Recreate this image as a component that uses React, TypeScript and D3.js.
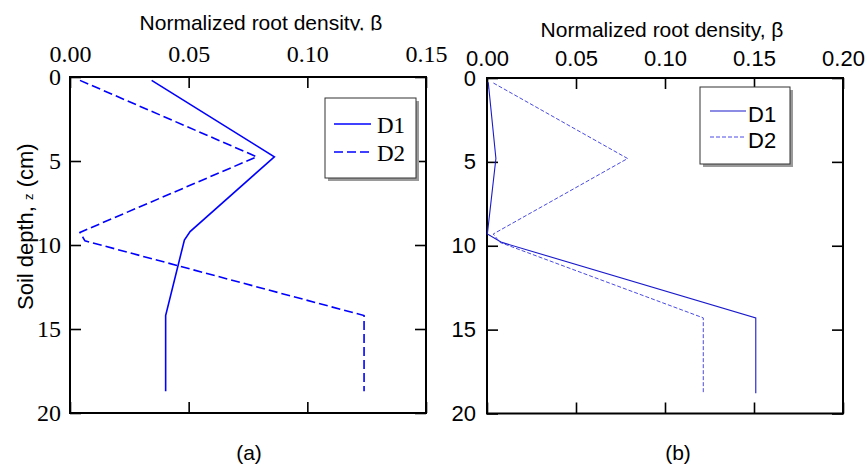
import React, { useRef, useEffect } from "react";
import * as d3 from "d3";

const depthTicks = [0, 5, 10, 15, 20];
const betaTicksA = [0, 0.05, 0.1, 0.15];
const betaTicksB = [0, 0.05, 0.1, 0.15, 0.2];
const seriesNames = ["D1", "D2"];

// panel (a)
const depthA_D1 = [0.2, 4.75, 9.2, 9.7, 14.2, 18.7];
const betaA_D1 = [0.0344, 0.0861, 0.0506, 0.0482, 0.0403, 0.0403];
const depthA_D2 = [0.2, 4.75, 9.25, 9.75, 14.2, 18.7];
const betaA_D2 = [0.0042, 0.0787, 0.0042, 0.0063, 0.1239, 0.1239];

// panel (b)
const depthB_D1 = [0.25, 4.8, 9.3, 9.8, 14.3, 18.8];
const betaB_D1 = [0.0007, 0.005, 0.0002, 0.0083, 0.151, 0.151];
const depthB_D2 = [0.3, 4.8, 9.3, 9.8, 14.3, 18.8];
const betaB_D2 = [0.0036, 0.079, 0.0035, 0.0073, 0.1215, 0.1215];

const W = 867;
const H = 466;
const SANS = "Liberation Sans, Arial, sans-serif";
const SERIF = "Liberation Serif, DejaVu Serif, Times New Roman, serif";

const zip = (depth: number[], beta: number[]) =>
  depth.map((d, i) => ({ depth: d, beta: beta[i] }));

const panels = [
  {
    id: "a",
    left: 70,
    right: 426,
    top: 77,
    bottom: 413,
    xMax: 0.15,
    xTicks: betaTicksA,
    tickFont: SERIF,
    tickSize: 24,
    topPad: 15,
    leftPad: 9,
    titleY: 29.5,
    titleX: 261,
    clipTitle: true,
    series: [zip(depthA_D1, betaA_D1), zip(depthA_D2, betaA_D2)],
    lineWidth: [1.6, 1.6],
    colors: ["#0000ff", "#0000ff"],
    dash: [null, "9,4"],
    legend: { x: 325, y: 98, w: 91, h: 80, font: SERIF, size: 23, rows: [124, 152], base: [133, 161], lx: [334, 371], tx: 377 },
    label: "(a)",
    labelX: 249,
  },
  {
    id: "b",
    left: 487,
    right: 843,
    top: 78,
    bottom: 413.5,
    xMax: 0.2,
    xTicks: betaTicksB,
    tickFont: SANS,
    tickSize: 22,
    topPad: 12,
    leftPad: 11,
    titleY: 37,
    titleX: 662,
    clipTitle: false,
    series: [zip(depthB_D1, betaB_D1), zip(depthB_D2, betaB_D2)],
    lineWidth: [1.1, 1],
    colors: ["#1a1acc", "#4a4ae6"],
    dash: [null, "4,2"],
    legend: { x: 700, y: 87, w: 90, h: 77, font: SANS, size: 22, rows: [111, 137], base: [122, 148], lx: [710, 746], tx: 748 },
    label: "(b)",
    labelX: 678,
  },
];

const App = () => {
  const svgRef = useRef<SVGSVGElement>(null);

  useEffect(() => {
    const svg = d3.select(svgRef.current);
    svg.selectAll("*").remove();

    svg
      .append("defs")
      .append("clipPath")
      .attr("id", "titleClip")
      .append("rect")
      .attr("x", 0)
      .attr("y", 0)
      .attr("width", 450)
      .attr("height", 30.5);

    panels.forEach((p) => {
      const x = d3.scaleLinear().domain([0, p.xMax]).range([p.left, p.right]);
      const y = d3.scaleLinear().domain([0, 20]).range([p.top, p.bottom]);
      const g = svg.append("g");

      // title
      g.append("text")
        .attr("x", p.titleX)
        .attr("y", p.titleY)
        .attr("text-anchor", "middle")
        .style("font-family", SANS)
        .style("font-size", "21px")
        .attr("clip-path", p.clipTitle ? "url(#titleClip)" : null)
        .text("Normalized root density,  β");

      // axes
      const top = g
        .append("g")
        .attr("transform", `translate(0,${p.top})`)
        .call(
          d3
            .axisTop(x)
            .tickValues(p.xTicks)
            .tickFormat(d3.format(".2f"))
            .tickSizeInner(-11)
            .tickSizeOuter(0)
            .tickPadding(p.topPad)
        );
      const bottom = g
        .append("g")
        .attr("transform", `translate(0,${p.bottom})`)
        .call(d3.axisBottom(x).tickValues(p.xTicks).tickFormat(() => "").tickSizeInner(-11).tickSizeOuter(0));
      const leftAx = g
        .append("g")
        .attr("transform", `translate(${p.left},0)`)
        .call(
          d3.axisLeft(y).tickValues(depthTicks).tickFormat(d3.format("d")).tickSizeInner(-11).tickSizeOuter(0).tickPadding(p.leftPad)
        );
      const rightAx = g
        .append("g")
        .attr("transform", `translate(${p.right},0)`)
        .call(d3.axisRight(y).tickValues(depthTicks).tickFormat(() => "").tickSizeInner(-11).tickSizeOuter(0));

      [top, bottom, leftAx, rightAx].forEach((a) => {
        a.select(".domain").remove();
        a.selectAll("line").attr("stroke", "#000").attr("stroke-width", 1.6);
        a.selectAll("text")
          .attr("fill", "#000")
          .style("font-family", p.tickFont)
          .style("font-size", `${p.tickSize}px`);
      });
      top.selectAll("text").attr("dy", "0em");

      // frame
      g.append("rect")
        .attr("x", p.left)
        .attr("y", p.top)
        .attr("width", p.right - p.left)
        .attr("height", p.bottom - p.top)
        .attr("fill", "none")
        .attr("stroke", "#000")
        .attr("stroke-width", 2);

      // lines
      const line = d3
        .line<{ depth: number; beta: number }>()
        .x((d) => x(d.beta))
        .y((d) => y(d.depth));

      p.series.forEach((s, i) => {
        g.append("path")
          .datum(s)
          .attr("fill", "none")
          .attr("stroke", p.colors[i])
          .attr("stroke-width", p.lineWidth[i])
          .attr("stroke-dasharray", p.dash[i])
          .attr("d", line);
      });

      // legend
      const L = p.legend;
      g.append("rect")
        .attr("x", L.x + 3)
        .attr("y", L.y + 3)
        .attr("width", L.w)
        .attr("height", L.h)
        .attr("fill", "#9a9a9a");
      g.append("rect")
        .attr("x", L.x)
        .attr("y", L.y)
        .attr("width", L.w)
        .attr("height", L.h)
        .attr("fill", "#fff")
        .attr("stroke", "#333")
        .attr("stroke-width", 1);
      seriesNames.forEach((name, i) => {
        g.append("line")
          .attr("x1", L.lx[0])
          .attr("x2", L.lx[1])
          .attr("y1", L.rows[i])
          .attr("y2", L.rows[i])
          .attr("stroke", p.colors[i])
          .attr("stroke-width", p.lineWidth[i])
          .attr("stroke-dasharray", p.dash[i]);
        g.append("text")
          .attr("x", L.tx)
          .attr("y", L.base[i])
          .style("font-family", L.font)
          .style("font-size", `${L.size}px`)
          .text(name);
      });

      // panel label
      g.append("text")
        .attr("x", p.labelX)
        .attr("y", 460)
        .attr("text-anchor", "middle")
        .style("font-family", SANS)
        .style("font-size", "21px")
        .text(p.label);
    });

    // y axis title
    const yt = svg
      .append("text")
      .attr("transform", "translate(33,310) rotate(-90)")
      .style("font-family", SANS)
      .style("font-size", "22px");
    yt.append("tspan").text("Soil depth, ");
    yt.append("tspan").style("font-size", "13px").text("z");
    yt.append("tspan").text(" (cm)");
  }, []);

  return (
    <div style={{ position: "absolute", left: 0, top: 0 }}>
      <svg ref={svgRef} width={W} height={H} style={{ display: "block", background: "#fff" }} />
    </div>
  );
};

export default App;
